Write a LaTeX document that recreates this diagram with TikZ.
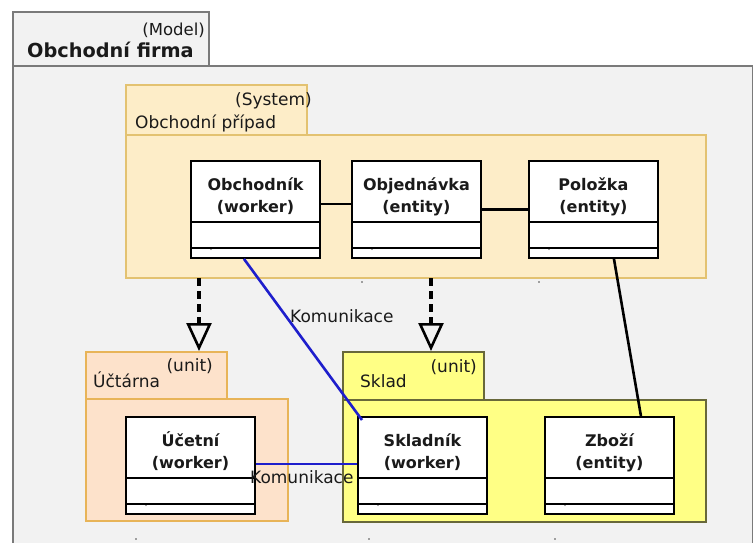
\documentclass[tikz,border=0pt]{standalone}
\usepackage{fontspec}
\setmainfont{DejaVu Sans}
\usetikzlibrary{arrows.meta,calc}

\definecolor{framebg}{HTML}{F2F2F2}
\definecolor{frameline}{HTML}{7A7A7A}
\definecolor{sysfill}{HTML}{FDEDC8}
\definecolor{sysline}{HTML}{E3C271}
\definecolor{accfill}{HTML}{FDE2CB}
\definecolor{accline}{HTML}{E8B458}
\definecolor{storefill}{HTML}{FFFF85}
\definecolor{storeline}{HTML}{68683A}
\definecolor{commblue}{HTML}{1E1ECC}
\definecolor{inktext}{HTML}{1A1A1A}

\tikzset{
  every node/.style={text=inktext},
  classbox/.style={draw=black, line width=1.9pt, fill=white, minimum width=129pt,
    minimum height=97pt, inner sep=0pt, anchor=north west},
  classline/.style={black, line width=1.6pt},
  classtitle/.style={font=\fontsize{16}{18}\selectfont\bfseries, anchor=base, inner sep=0pt},
  pkglabel/.style={font=\fontsize{17}{19}\selectfont, inner sep=0pt, anchor=base west},
  stereo/.style={font=\fontsize{17}{19}\selectfont, inner sep=0pt, anchor=base east},
  region/.style={inner sep=0pt, anchor=north west, line width=1.6pt},
  assoc/.style={black, line width=2.6pt},
  comm/.style={commblue, line width=2.6pt},
  commlabel/.style={font=\fontsize{17}{19}\selectfont, inner sep=0pt, anchor=base west},
  realize/.style={black, line width=3.2pt, dash pattern=on 8pt off 5pt,
    -{Triangle[open, length=28pt, width=25pt, line width=2.6pt]}},
  speck/.style={fill=black!70, circle, inner sep=0pt, minimum size=1.8pt},
}

% class box: name, left, top, first line, second line
\newcommand\umlclass[5]{%
  \node[classbox] (#1) at (#2,#3) {};
  \draw[classline] ([yshift=-62pt]#1.north west) -- ([yshift=-62pt]#1.north east);
  \draw[classline] ([yshift=-88pt]#1.north west) -- ([yshift=-88pt]#1.north east);
  \node[classtitle] (#1-a) at ([yshift=-30pt]#1.north) {#4};
  \node[classtitle] (#1-b) at ([yshift=-52pt]#1.north) {#5};
  \node[speck, minimum size=1.3pt] (#1-s) at ([xshift=21pt,yshift=-89.5pt]#1.north west) {};
}

\begin{document}
\begin{tikzpicture}[x=1pt, y=-1pt]
  \useasboundingbox (0,0) rectangle (753,542);
  \clip (0,0) rectangle (753,542);
  \fill[white] (0,0) rectangle (753,542);

  % model frame
  \node[region, draw=frameline, fill=framebg, minimum width=196pt, minimum height=54pt]
    (modeltab) at (12,11) {};
  \node[region, draw=frameline, fill=framebg, minimum width=740pt, minimum height=520pt]
    (modelbody) at (12,65) {};
  \node[stereo, font=\fontsize{16.5}{19}\selectfont] (model-st) at (205,35) {(Model)};
  \node[pkglabel, font=\fontsize{19.3}{22}\selectfont\bfseries] (model-name) at (27,57) {Obchodní firma};

  % system package
  \node[region, draw=sysline, fill=sysfill, minimum width=181pt, minimum height=50pt]
    (systab) at (125,84) {};
  \node[region, draw=sysline, fill=sysfill, minimum width=580pt, minimum height=143pt]
    (sysbody) at (125,134) {};
  \node[stereo] (sys-st) at (312,105) {(System)};
  \node[pkglabel] (sys-name) at (135,128) {Obchodní případ};

  % accounting unit
  \node[region, draw=accline, fill=accfill, minimum width=141pt, minimum height=47pt]
    (acctab) at (85,351) {};
  \node[region, draw=accline, fill=accfill, minimum width=202pt, minimum height=122pt]
    (accbody) at (85,398) {};
  \node[stereo] (acc-st) at (213,371) {(unit)};
  \node[pkglabel] (acc-name) at (93,387) {Účtárna};

  % store unit
  \node[region, draw=storeline, fill=storefill, minimum width=141pt, minimum height=48pt]
    (sttab) at (342,351) {};
  \node[region, draw=storeline, fill=storefill, minimum width=363pt, minimum height=122pt]
    (stbody) at (342,399) {};
  \node[stereo] (st-st) at (477,372) {(unit)};
  \node[pkglabel] (st-name) at (360,387) {Sklad};

  % classes
  \umlclass{obch}{190}{160}{Obchodník}{(worker)}
  \umlclass{obj}{351}{160}{Objednávka}{(entity)}
  \umlclass{pol}{528}{160}{Položka}{(entity)}
  \umlclass{uce}{125}{416}{Účetní}{(worker)}
  \umlclass{skl}{357}{416}{Skladník}{(worker)}
  \umlclass{zbo}{544}{416}{Zboží}{(entity)}

  % associations
  \draw[assoc] ([yshift=5.5pt]obch.east) -- ([yshift=5.5pt]obj.west);
  \draw[assoc] (obj.east) -- (pol.west);
  \draw[assoc] ([xshift=20.5pt]pol.south) -- ([xshift=31.5pt]zbo.north);

  % communication links
  \draw[comm] ([xshift=-11.5pt]obch.south) -- ([xshift=5pt,yshift=-4pt]skl.north west);
  \draw[comm] ([yshift=1.5pt]uce.east) -- ([yshift=1.5pt]skl.west);
  \node[commlabel] (comm1) at (290,322) {Komunikace};
  \node[commlabel] (comm2) at (250,483) {Komunikace};

  % realizations
  \coordinate (real1) at (199,278);
  \coordinate (real2) at (431,278);
  \draw[realize] (real1) -- (real1 |- acctab.north);
  \draw[realize] (real2) -- (real2 |- sttab.north);

  % loose specks
  \node[speck] (sp1) at (362,282) {};
  \node[speck] (sp2) at (539,282) {};
  \node[speck] (sp3) at (136,539) {};
  \node[speck] (sp4) at (369,539) {};
  \node[speck] (sp5) at (555,539) {};
\end{tikzpicture}
\end{document}
